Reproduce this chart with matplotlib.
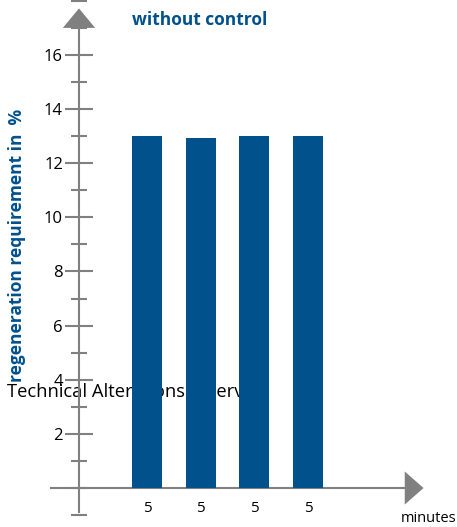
import matplotlib.pyplot as plt
from matplotlib.ticker import MultipleLocator

plt.rcParams['font.family'] = ['Open Sans', 'DejaVu Sans']

# regeneration requirement per interval
durations = ['5', '5', '5', '5']
requirement = [13.0, 12.95, 13.0, 13.0]
y_ticks = [2, 4, 6, 8, 10, 12, 14, 16]

blue = '#00518c'
gray = '#808080'

fig = plt.figure(figsize=(4.57, 5.27), dpi=100)
ax = fig.add_axes([0, 0, 1, 1])

# axis scaling: 27.06 px per percent, 53.7 px per bar slot
ax.set_xlim(-1.737, 6.773)
ax.set_ylim(-1.44, 18.03)

x = list(range(1, len(requirement) + 1))
ax.bar(x, requirement, width=0.56, color=blue, zorder=3)

y_axis_x = -0.266
for side in ['top', 'right']:
    ax.spines[side].set_visible(False)
ax.spines['left'].set_position(('data', y_axis_x))
ax.spines['bottom'].set_position(('data', 0))
ax.spines['left'].set_bounds(-0.9, 17.1)
ax.spines['bottom'].set_bounds(-0.79, 5.85)
for side in ['left', 'bottom']:
    ax.spines[side].set_color(gray)
    ax.spines[side].set_linewidth(1.5)
    ax.spines[side].set_zorder(2)

# arrow heads at the end of both axes
ax.fill([y_axis_x - 0.30, y_axis_x + 0.30, y_axis_x], [17.0, 17.0, 17.72],
        color=gray, lw=0, zorder=2, clip_on=False)
ax.fill([5.80, 5.80, 6.15], [-0.61, 0.61, 0.0],
        color=gray, lw=0, zorder=2, clip_on=False)

ax.set_yticks(y_ticks)
ax.set_yticklabels([str(v) for v in y_ticks])
ax.yaxis.set_minor_locator(MultipleLocator(1))
ax.tick_params(axis='y', which='major', direction='inout', length=20,
               width=1.5, color=gray, labelsize=12, pad=1.5)
ax.tick_params(axis='y', which='minor', direction='inout', length=11,
               width=1.5, color=gray)

ax.set_xticks(x)
ax.set_xticklabels(durations)
ax.tick_params(axis='x', length=0, labelsize=11, pad=9)

ax.set_facecolor('none')

ax.text(1.99, 17.3, 'without control', color=blue, fontsize=12.5,
        fontweight='bold', ha='center', va='center')
ax.text(-1.42, 8.95, 'regeneration requirement in  %', color=blue,
        fontsize=12.5, fontweight='bold', rotation=90, ha='center', va='center')
ax.text(5.72, -1.14, 'minutes', fontsize=10.5, ha='left', va='center')

# note sits behind the bars
ax.text(-1.61, 3.55, 'Technical Alterations reserved.', fontsize=13.2,
        ha='left', va='center', zorder=1)

fig.savefig('out.png', dpi=100)
